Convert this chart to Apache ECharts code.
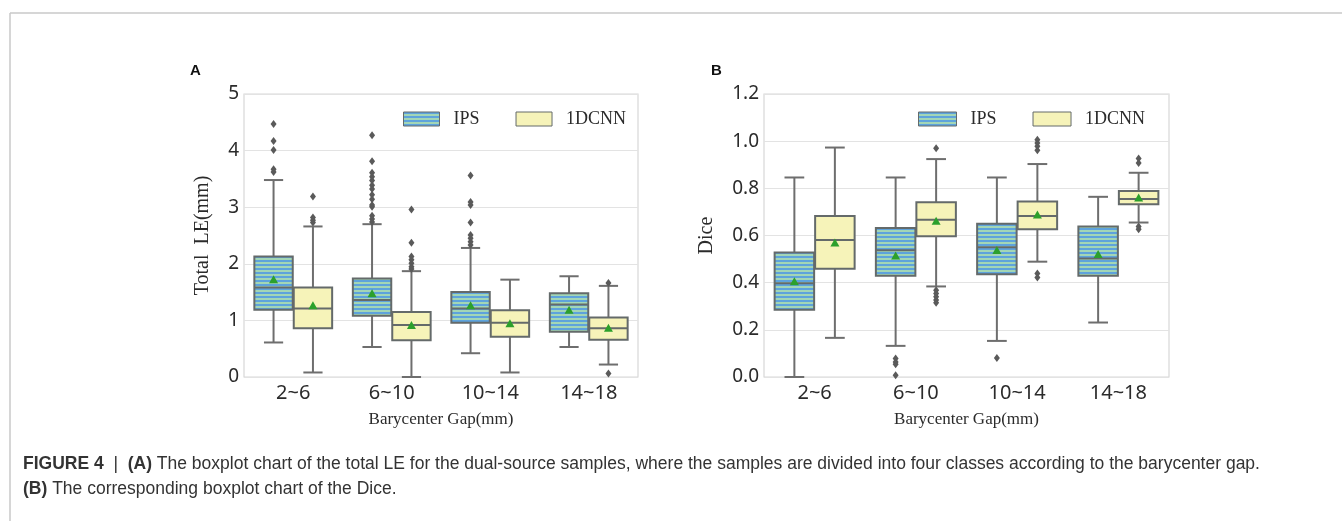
<!DOCTYPE html>
<html>
<head>
<meta charset="utf-8">
<script src="https://cdn.jsdelivr.net/npm/echarts@6/dist/echarts.min.js"></script>
<style>
html,body{margin:0;padding:0;background:#fff;}
#chart{width:1342px;height:521px;}
</style>
</head>
<body>
<div id="chart"></div>
<script>
// ---------- DATA ----------
const categories = ['2~6', '6~10', '10~14', '14~18'];
const seriesNames = ['IPS', '1DCNN'];
const leTicks = [0, 1, 2, 3, 4, 5];
const diceTicks = [0, 0.2, 0.4, 0.6, 0.8, 1.0, 1.2];

// Total LE: [lowerWhisker, Q1, median, Q3, upperWhisker]
const leIPS = [
  [0.61, 1.19, 1.58, 2.13, 3.48],
  [0.53, 1.08, 1.36, 1.74, 2.70],
  [0.42, 0.96, 1.21, 1.50, 2.28],
  [0.53, 0.80, 1.28, 1.48, 1.78]
];
const le1DCNN = [
  [0.08, 0.86, 1.21, 1.58, 2.66],
  [0.00, 0.65, 0.92, 1.15, 1.87],
  [0.08, 0.71, 0.96, 1.18, 1.72],
  [0.22, 0.66, 0.86, 1.05, 1.61]
];
const leIPSMean = [1.72, 1.47, 1.26, 1.18];
const le1DCNNMean = [1.26, 0.91, 0.94, 0.86];
const leIPSOutliers = [
  [4.47, 4.17, 4.01, 3.67, 3.62],
  [4.27, 3.81, 3.61, 3.54, 3.47, 3.39, 3.32, 3.22, 3.14, 3.04, 3.01, 2.85, 2.79, 2.74],
  [3.56, 3.09, 3.04, 2.73, 2.51, 2.45, 2.39, 2.33],
  []
];
const le1DCNNOutliers = [
  [3.19, 2.82, 2.77, 2.73],
  [2.96, 2.37, 2.13, 2.07, 2.01, 1.95, 1.91],
  [],
  [1.66, 0.06]
];

// Dice: [lowerWhisker, Q1, median, Q3, upperWhisker]
const diceIPS = [
  [0.000, 0.285, 0.398, 0.528, 0.846],
  [0.132, 0.429, 0.537, 0.632, 0.846],
  [0.153, 0.436, 0.550, 0.650, 0.846],
  [0.231, 0.429, 0.503, 0.638, 0.764]
];
const dice1DCNN = [
  [0.166, 0.459, 0.581, 0.683, 0.973],
  [0.384, 0.597, 0.667, 0.741, 0.924],
  [0.489, 0.626, 0.683, 0.744, 0.903],
  [0.655, 0.733, 0.755, 0.789, 0.866]
];
const diceIPSMean = [0.404, 0.513, 0.536, 0.519];
const dice1DCNNMean = [0.568, 0.660, 0.687, 0.759];
const diceIPSOutliers = [
  [],
  [0.078, 0.064, 0.054, 0.007],
  [0.081],
  []
];
const dice1DCNNOutliers = [
  [],
  [0.970, 0.368, 0.354, 0.340, 0.326, 0.315],
  [1.006, 0.992, 0.978, 0.961, 0.439, 0.422],
  [0.927, 0.907, 0.638, 0.626]
];

// ---------- STYLE ----------
const C = {
  blue: '#5ea3dc', green: '#a2d6b6', yellow: '#f6f3b9',
  edge: '#646a6a', whisker: '#6e6e6e', flier: '#5a5a5a', mean: '#2ca02c',
  grid: '#e3e3e3', frame: '#d8d8d8', text: '#2b2b2b'
};
function stripePattern() {
  const cv = document.createElement('canvas');
  cv.width = 4; cv.height = 4;
  const ctx = cv.getContext('2d');
  ctx.fillStyle = C.green; ctx.fillRect(0, 0, 4, 4);
  ctx.fillStyle = C.blue; ctx.fillRect(0, 0, 4, 2);
  return { image: cv, repeat: 'repeat' };
}
const stripes = stripePattern();

function boxData(stats) { return stats.map((s, i) => [i].concat(s)); }
function pointData(lists) {
  const out = [];
  lists.forEach((l, i) => l.forEach(v => out.push([i, v])));
  return out;
}
function meanData(arr) { return arr.map((v, i) => [i, v]); }

function boxRender(side, fill) {
  return function (params, api) {
    const c = api.value(0);
    const lo = api.coord([c, api.value(1)]);
    const q1 = api.coord([c, api.value(2)]);
    const md = api.coord([c, api.value(3)]);
    const q3 = api.coord([c, api.value(4)]);
    const hi = api.coord([c, api.value(5)]);
    const bw = api.size([1, 0])[0];
    const cx = lo[0] + side * bw * 0.2;
    const w = bw * 0.4 - 1;
    const cap = w / 2;
    const ls = { stroke: C.whisker, lineWidth: 2 };
    return {
      type: 'group',
      children: [
        { type: 'line', shape: { x1: cx, y1: hi[1], x2: cx, y2: q3[1] }, style: ls },
        { type: 'line', shape: { x1: cx, y1: q1[1], x2: cx, y2: lo[1] }, style: ls },
        { type: 'line', shape: { x1: cx - cap / 2, y1: hi[1], x2: cx + cap / 2, y2: hi[1] }, style: ls },
        { type: 'line', shape: { x1: cx - cap / 2, y1: lo[1], x2: cx + cap / 2, y2: lo[1] }, style: ls },
        { type: 'rect', shape: { x: cx - w / 2, y: q3[1], width: w, height: q1[1] - q3[1] },
          style: { fill: fill, stroke: C.edge, lineWidth: 2 } },
        { type: 'line', shape: { x1: cx - w / 2, y1: md[1], x2: cx + w / 2, y2: md[1] },
          style: { stroke: C.edge, lineWidth: 2 } }
      ]
    };
  };
}
function flierRender(side) {
  return function (params, api) {
    const p = api.coord([api.value(0), api.value(1)]);
    const bw = api.size([1, 0])[0];
    const x = p[0] + side * bw * 0.2, y = p[1];
    return { type: 'polygon', shape: { points: [[x, y - 4], [x + 3, y], [x, y + 4], [x - 3, y]] },
      style: { fill: C.flier } };
  };
}
function meanRender(side) {
  return function (params, api) {
    const p = api.coord([api.value(0), api.value(1)]);
    const bw = api.size([1, 0])[0];
    const x = p[0] + side * bw * 0.2, y = p[1];
    return { type: 'polygon', shape: { points: [[x, y - 4.5], [x + 4.5, y + 3.5], [x - 4.5, y + 3.5]] },
      style: { fill: C.mean } };
  };
}

function panelSeries(gi, name, side, fill, stats, means, fliers) {
  return [
    { type: 'custom', name: name, xAxisIndex: gi, yAxisIndex: gi, renderItem: boxRender(side, fill),
      encode: { x: 0, y: [1, 2, 3, 4, 5] }, data: boxData(stats),
      itemStyle: { color: side < 0 ? C.blue : C.yellow }, z: 2 },
    { type: 'custom', name: name, xAxisIndex: gi, yAxisIndex: gi, renderItem: flierRender(side),
      encode: { x: 0, y: 1 }, data: pointData(fliers), z: 3,
      itemStyle: { color: side < 0 ? C.blue : C.yellow } },
    { type: 'custom', name: name, xAxisIndex: gi, yAxisIndex: gi, renderItem: meanRender(side),
      encode: { x: 0, y: 1 }, data: meanData(means), z: 4,
      itemStyle: { color: side < 0 ? C.blue : C.yellow } }
  ];
}

const serif = '"Liberation Serif", "DejaVu Serif", serif';
const sans = '"Noto Sans", "Open Sans", sans-serif';

function xAxis(gi) {
  return {
    type: 'category', gridIndex: gi, data: categories,
    axisLine: { show: false }, axisTick: { show: false }, splitLine: { show: false },
    axisLabel: { fontSize: 20, color: C.text, fontFamily: sans, margin: 6 },
    name: 'Barycenter Gap(mm)', nameLocation: 'middle', nameGap: 34,
    nameTextStyle: { fontSize: 17, color: C.text, fontFamily: serif }
  };
}
function yAxis(gi, ticks, name, fmt, gap) {
  return {
    type: 'value', gridIndex: gi, min: ticks[0], max: ticks[ticks.length - 1],
    interval: ticks[1] - ticks[0],
    axisLine: { show: false }, axisTick: { show: false },
    splitLine: { show: true, lineStyle: { color: C.grid, width: 1.2 } },
    axisLabel: { fontSize: 19, color: C.text, fontFamily: sans, margin: 5, formatter: fmt },
    name: name, nameLocation: 'middle', nameGap: gap, nameRotate: 90,
    nameTextStyle: { fontSize: 20, color: C.text, fontFamily: serif }
  };
}
function legend(left, w) {
  return {
    left: left, top: 110, padding: 0, itemWidth: w, itemHeight: 14, itemGap: 36, selectedMode: false,
    icon: 'rect',
    textStyle: { fontSize: 18, color: C.text, fontFamily: serif, padding: [0, 0, 0, 9] },
    data: [
      { name: 'IPS', itemStyle: { color: stripes, borderColor: C.edge, borderWidth: 1 } },
      { name: '1DCNN', itemStyle: { color: C.yellow, borderColor: C.edge, borderWidth: 1 } }
    ]
  };
}

const chart = echarts.init(document.getElementById('chart'), null, { renderer: 'canvas' });
chart.setOption({
  animation: false,
  backgroundColor: '#fff',
  grid: [
    { left: 244, top: 94, width: 394, height: 283, show: true, borderColor: C.frame, borderWidth: 1.2 },
    { left: 764, top: 94, width: 405, height: 283, show: true, borderColor: C.frame, borderWidth: 1.2 }
  ],
  legend: [legend(403, 36), legend(918, 38)],
  xAxis: [xAxis(0), xAxis(1)],
  yAxis: [
    yAxis(0, leTicks, 'Total  LE(mm)', v => String(v), 31),
    yAxis(1, diceTicks, 'Dice', v => v.toFixed(1), 47)
  ],
  series: [].concat(
    panelSeries(0, 'IPS', -1, stripes, leIPS, leIPSMean, leIPSOutliers),
    panelSeries(0, '1DCNN', 1, C.yellow, le1DCNN, le1DCNNMean, le1DCNNOutliers),
    panelSeries(1, 'IPS', -1, stripes, diceIPS, diceIPSMean, diceIPSOutliers),
    panelSeries(1, '1DCNN', 1, C.yellow, dice1DCNN, dice1DCNNMean, dice1DCNNOutliers)
  ),
  graphic: [
    { type: 'line', shape: { x1: 10, y1: 13, x2: 1342, y2: 13 }, style: { stroke: '#c8c8c8', lineWidth: 1.5 } },
    { type: 'line', shape: { x1: 10, y1: 13, x2: 10, y2: 521 }, style: { stroke: '#c8c8c8', lineWidth: 1.5 } },
    { type: 'text', left: 190, top: 63, style: { text: 'A', font: 'bold 15px "Liberation Sans", Arial, sans-serif', fill: '#111' } },
    { type: 'text', left: 711, top: 63, style: { text: 'B', font: 'bold 15px "Liberation Sans", Arial, sans-serif', fill: '#111' } },
    { type: 'text', left: 23, top: 452, style: {
        text: '{b|FIGURE 4}{n|  |  }{b|(A)}{n| The boxplot chart of the total LE for the dual-source samples, where the samples are divided into four classes according to the barycenter gap.}\n{b|(B)}{n| The corresponding boxplot chart of the Dice.}',
        lineHeight: 25,
        rich: {
          b: { font: 'bold 17.5px "Liberation Sans", Arial, sans-serif', fill: '#333', lineHeight: 25 },
          n: { font: '17.5px "Liberation Sans", Arial, sans-serif', fill: '#333', lineHeight: 25 }
        }
    } }
  ]
});
</script>
</body>
</html>
